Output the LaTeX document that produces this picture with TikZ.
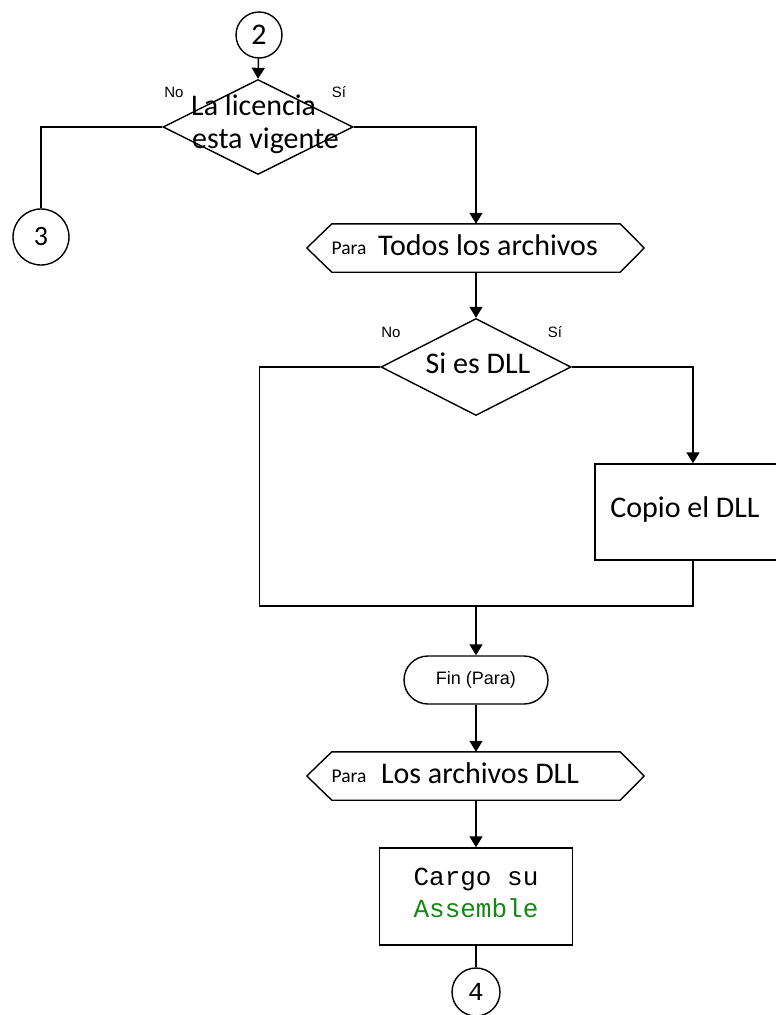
\documentclass[tikz,border=0pt]{standalone}
\usepackage{fontspec}
\setmainfont{Carlito}
\newfontfamily\smallsans{Liberation Sans}
\newfontfamily\codefont{Liberation Mono}
\usetikzlibrary{shapes.geometric,shapes.misc,arrows.meta}
\definecolor{codegreen}{RGB}{20,135,20}

\tikzset{
  line/.style={line width=1.4pt, draw=black},
  arr/.style={line, -{Triangle[length=11pt,width=13pt]}},
  maintext/.style={inner sep=0pt, font=\fontsize{30}{33}\selectfont},
  tag/.style={inner sep=0pt, font=\smallsans\fontsize{15}{17}\selectfont},
  paratag/.style={inner sep=0pt, font=\fontsize{19.5}{21}\selectfont},
  decision/.style={line, diamond, inner sep=0pt, fill=white},
  hexcore/.style={rectangle, inner sep=0pt, minimum height=48pt},
  box/.style={line, rectangle, inner sep=0pt, fill=white},
  connector/.style={line, circle, inner sep=0pt, fill=white},
  loopend/.style={line, rounded rectangle, inner sep=0pt, fill=white,
    font=\smallsans\fontsize{18}{20}\selectfont},
}

\begin{document}
\begin{tikzpicture}[x=1pt, y=-1pt]
\useasboundingbox (0,0) rectangle (776,1015);
\clip (0,0) rectangle (776,1015);

% entry connector and licence check
\node[connector, minimum size=46pt, font=\fontsize{30}{32}\selectfont] (c2) at (259,35) {2};
\node[decision, minimum width=190pt, minimum height=95pt] (d1) at (258,127) {};
\node[maintext, anchor=base west] (d1a) at (191,115) {La licencia};
\node[maintext, anchor=base west] (d1b) at (192,148) {esta vigente};
\node[tag, anchor=base] (no1) at (174,97) {No};
\node[tag, anchor=base] (si1) at (339,97) {Sí};

\node[connector, minimum size=56pt, font=\fontsize{28}{30}\selectfont] (c3) at (41,237) {3};

% first loop header
\node[hexcore, minimum width=288pt] (h1) at (476,248) {};
\draw[line] (h1.north west) -- (h1.north east) -- ([xshift=24pt]h1.east)
  -- (h1.south east) -- (h1.south west) -- ([xshift=-25pt]h1.west) -- cycle;
\node[paratag, anchor=base] (p1) at (349,254) {Para};
\node[maintext, anchor=base] (h1t) at (488,255) {Todos los archivos};

% DLL test and copy step
\node[decision, minimum width=190pt, minimum height=97pt] (d2) at (476,367) {};
\node[maintext, anchor=base] (d2t) at (478,373) {Si es DLL};
\node[tag, anchor=base] (no2) at (391,337) {No};
\node[tag, anchor=base] (si2) at (555,337) {Sí};

\node[box, minimum width=196pt, minimum height=96pt] (copy) at (693,512) {};
\node[maintext, anchor=base] (copyt) at (685,517) {Copio el DLL};

\coordinate (join) at (476,606);

\node[loopend, minimum width=144pt, minimum height=48pt] (fin) at (476,680) {Fin (Para)};

% second loop header
\node[hexcore, minimum width=288pt] (h2) at (476,776) {};
\draw[line] (h2.north west) -- (h2.north east) -- ([xshift=24pt]h2.east)
  -- (h2.south east) -- (h2.south west) -- ([xshift=-25pt]h2.west) -- cycle;
\node[paratag, anchor=base] (p2) at (349,782) {Para};
\node[maintext, anchor=base] (h2t) at (480,783) {Los archivos DLL};

% load step and exit connector
\node[box, minimum width=193pt, minimum height=97pt] (cargo) at (476,896.5) {};
\node[inner sep=0pt, anchor=base, font=\codefont\fontsize{26}{28}\selectfont] (cg1) at (476,885) {Cargo su};
\node[inner sep=0pt, anchor=base, font=\codefont\fontsize{26}{28}\selectfont, text=codegreen] (cg2) at (476,917) {Assemble};

\node[connector, minimum size=48pt, font=\codefont\fontsize{26}{28}\selectfont] (c4) at (476,992) {4};

% connectors
\draw[arr] (c2) -- (d1.north);
\draw[line] (d1.west) -| (c3.north);
\draw[arr] (d1.east) -| (h1.north);
\draw[arr] (h1.south) -- (d2.north);
\draw[line] (d2.west) -- ++(-121,0) |- (join);
\draw[arr] (d2.east) -| (copy.north);
\draw[line] (copy.south) |- (join);
\draw[arr] (join) -- (fin.north);
\draw[arr] (fin.south) -- (h2.north);
\draw[arr] (h2.south) -- (cargo.north);
\draw[line] (cargo.south) -- (c4.north);
\end{tikzpicture}
\end{document}
